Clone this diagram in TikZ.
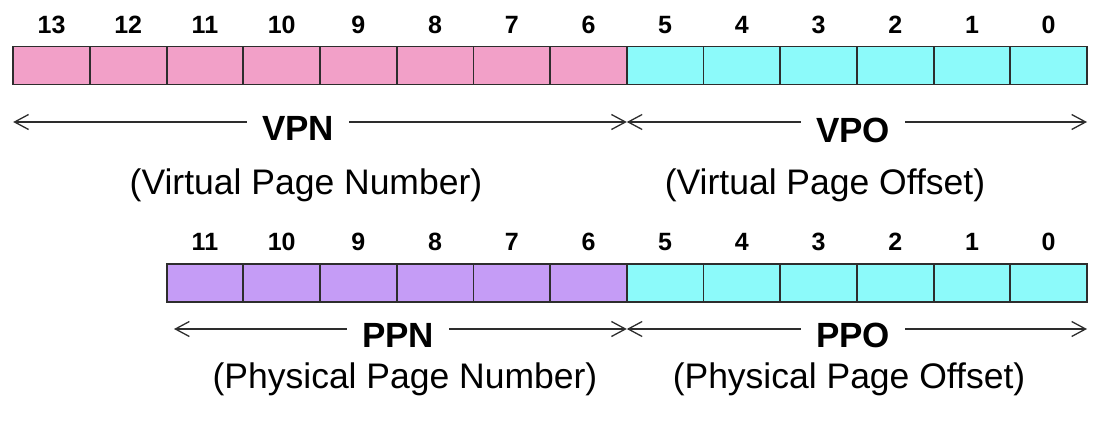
\documentclass[tikz,border=0pt]{standalone}
\usepackage{fontspec}
\setmainfont{Liberation Sans}
\usetikzlibrary{positioning, arrows.meta}

\definecolor{vpnfill}{RGB}{242,160,200}
\definecolor{ppnfill}{RGB}{197,156,246}
\definecolor{offfill}{RGB}{140,250,250}
\definecolor{rule}{RGB}{45,45,45}

\begin{document}
\begin{tikzpicture}[x=1pt, y=-1pt,
    bitbox/.style={draw=rule, line width=1.8pt, minimum width=76.7pt, minimum height=38pt, inner sep=0pt, outer sep=0pt},
    bitnum/.style={font=\bfseries\fontsize{25}{30}\selectfont, inner sep=0pt},
    field/.style={font=\bfseries\fontsize{35}{42}\selectfont, inner xsep=15pt, inner ysep=0pt},
    fieldname/.style={font=\fontsize{35.5}{42}\selectfont, inner sep=0pt},
    span/.style={draw=rule, line width=1.3pt, -{Straight Barb[length=14pt, width=15pt]}}
]
\useasboundingbox (0,0) rectangle (1102,428);

% virtual address, bits 13..0
\foreach \b in {0,...,13} {
    \ifnum\b<6 \def\cellfill{offfill}\else\def\cellfill{vpnfill}\fi
    \node[bitbox, fill=\cellfill] (v\b) at ({1087-76.7*\b-38.35}, 65.5) {};
    \node[bitnum, above=13pt of v\b] (vn\b) {\b};
}

% physical address, bits 11..0
\foreach \b in {0,...,11} {
    \ifnum\b<6 \def\cellfill{offfill}\else\def\cellfill{ppnfill}\fi
    \node[bitbox, fill=\cellfill] (p\b) at ({1087-76.7*\b-38.35}, 283) {};
    \node[bitnum, above=13.5pt of p\b] (pn\b) {\b};
}

% field labels
\node[field] (vpn) at (298,128) {VPN};
\node[field] (vpo) at (853,130) {VPO};
\node[fieldname] (vpnname) at (306,185) {(Virtual Page Number)};
\node[fieldname] (vponame) at (825,185) {(Virtual Page Offset)};

\node[field] (ppn) at (398,335) {PPN};
\node[field] (ppo) at (853,335) {PPO};
\node[fieldname] (ppnname) at (405,379) {(Physical Page Number)};
\node[fieldname] (pponame) at (849,379) {(Physical Page Offset)};

% span arrows
\coordinate (vl) at (v13.west |- 0,122);
\coordinate (vm) at (v5.west |- 0,122);
\coordinate (vr) at (v0.east |- 0,122);
\draw[span] (vpn.west |- vl) -- (vl);
\draw[span] (vpn.east |- vl) -- (vm);
\draw[span] (vpo.west |- vm) -- (vm);
\draw[span] (vpo.east |- vr) -- (vr);

\coordinate (pl) at (174,329);
\coordinate (pm) at (p5.west |- 0,329);
\coordinate (pr) at (p0.east |- 0,329);
\draw[span] (ppn.west |- pl) -- (pl);
\draw[span] (ppn.east |- pl) -- (pm);
\draw[span] (ppo.west |- pm) -- (pm);
\draw[span] (ppo.east |- pr) -- (pr);
\end{tikzpicture}
\end{document}
